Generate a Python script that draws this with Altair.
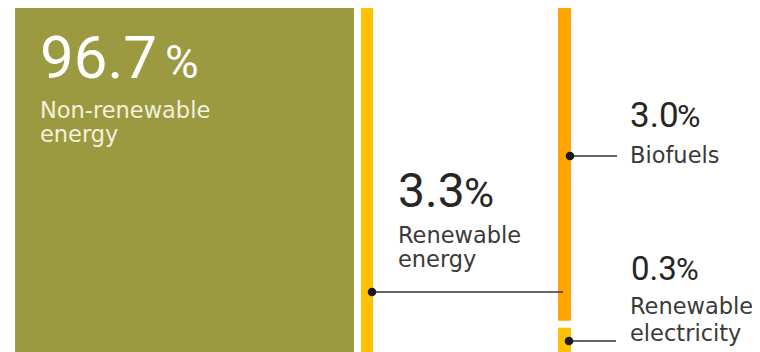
import altair as alt
import pandas as pd

# ---- data ----
segments = ["Non-renewable energy", "Renewable energy", "Biofuels", "Renewable electricity"]
shares = [96.7, 3.3, 3.0, 0.3]
share_labels = ["96.7", "3.3", "3.0", "0.3"]
name_lines = [["Non-renewable", "energy"], ["Renewable", "energy"], ["Biofuels"], ["Renewable", "electricity"]]
colors = ["#9b9a40", "#ffc100", "#ffa400", "#ffc100"]

# ---- layout (plot-area pixels) ----
W, H = 744, 344
col_x = [(7, 346), (353, 365), (550, 563), (550, 563)]
total_ren = shares[1]

bars = pd.DataFrame({
    "seg": segments,
    "x0": [c[0] for c in col_x],
    "x1": [c[1] for c in col_x],
    "y0": [0, 0, 0, shares[2]],
    "y1": [total_ren, total_ren, shares[2], shares[2] + shares[3]],
    "color": colors,
})

xs = alt.Scale(domain=[0, W], range=[0, W], nice=False, zero=False)
ys = alt.Scale(domain=[0, total_ren], reverse=True, nice=False, zero=False)
ps = alt.Scale(domain=[0, H], range=[0, H], nice=False, zero=False)

def bar_layer(df, **kw):
    return alt.Chart(df).mark_rect(**kw).encode(
        x=alt.X("x0:Q", scale=xs, axis=None),
        x2="x1:Q",
        y=alt.Y("y0:Q", scale=ys, axis=None),
        y2="y1:Q",
        color=alt.Color("color:N", scale=None, legend=None),
    )

bars_main = bar_layer(bars.iloc[:3])
bars_elec = bar_layer(bars.iloc[3:], yOffset=7)

# annotation anchors (plot pixels)
conn = pd.DataFrame({
    "x0": [364, 562, 561],
    "x1": [555, 609, 608],
    "y": [284, 148, 333],
})
lines = alt.Chart(conn).mark_rule(color="#333333", strokeWidth=1.5).encode(
    x=alt.X("x0:Q", scale=xs, axis=None), x2="x1:Q",
    y=alt.Y("y:Q", scale=ps, axis=None),
)
dots = alt.Chart(conn).mark_circle(color="#1a1a1a", opacity=1, size=75).encode(
    x=alt.X("x0:Q", scale=xs, axis=None),
    y=alt.Y("y:Q", scale=ps, axis=None),
)

# text blocks: (x, baseline, size, pct_x, pct_size)
big_pos = [(32, 70, 60, 157, 46), (390, 199, 48, 456, 41), (622, 119, 35, 669, 32), (623, 272, 33, 668, 31)]
name_pos = [(32, 110, 24), (390, 235, 24), (622, 155, 25), (622, 306, 27)]
text_col = ["#ffffff", "#262626", "#262626", "#262626"]
name_col = ["#f3f1dc", "#3a3a3a", "#3a3a3a", "#3a3a3a"]

num_rows, name_rows = [], []
for i in range(4):
    x, yb, fs, px, pfs = big_pos[i]
    num_rows.append({"t": share_labels[i], "x": x, "y": yb, "s": fs, "c": text_col[i]})
    num_rows.append({"t": "%", "x": px, "y": yb, "s": pfs, "c": text_col[i]})
    nx, ny, lh = name_pos[i]
    for j, ln in enumerate(name_lines[i]):
        name_rows.append({"t": ln, "x": nx, "y": ny + j * lh, "s": 22.5, "c": name_col[i]})

def text_layer(rows, font):
    return alt.Chart(pd.DataFrame(rows)).mark_text(align="left", baseline="alphabetic", font=font).encode(
        x=alt.X("x:Q", scale=xs, axis=None),
        y=alt.Y("y:Q", scale=ps, axis=None),
        text="t:N",
        size=alt.Size("s:Q", scale=None, legend=None),
        color=alt.Color("c:N", scale=None, legend=None),
    )

nums = text_layer(num_rows, "Roboto")
names = text_layer(name_rows, "DejaVu Sans")

bar_part = alt.layer(bars_main, bars_elec)
ann_part = alt.layer(lines, dots, nums, names)

chart = alt.layer(bar_part, ann_part).resolve_scale(y="independent").properties(
    width=W, height=H, autosize=alt.AutoSizeParams(type="none"), padding=0,
    background="white",
).configure_view(stroke=None)

chart.save("out.html", embed_options={"renderer": "svg", "actions": False})
